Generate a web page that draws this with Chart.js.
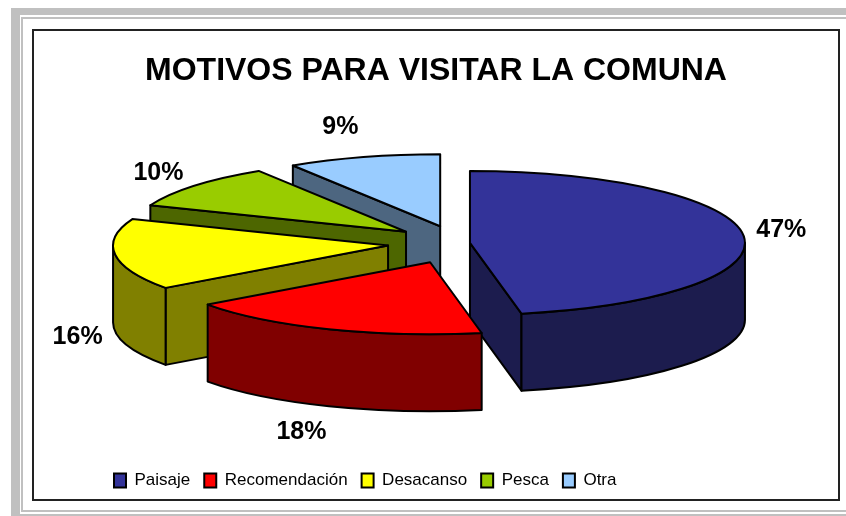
<!DOCTYPE html>
<html>
<head>
<meta charset="utf-8">
<script src="https://cdn.jsdelivr.net/npm/chart.js@4.4.1/dist/chart.umd.min.js"></script>
<style>
    html, body { margin: 0; padding: 0; background: #fff; overflow: hidden; }
    #page { position: relative; width: 846px; height: 516px; overflow: hidden; }
    .frame { position: absolute; box-sizing: border-box; }
    #outer { left: 11px; top: 8px; width: 900px; height: 520px; background: #c0c0c0; }
    #gap { left: 20px; top: 15px; width: 900px; height: 499px; background: #fff; }
    #inner { left: 21px; top: 17px; width: 900px; height: 495px; border: 2px solid #c0c0c0; background: #fff; }
    #box { left: 32px; top: 29px; width: 808px; height: 472px; border: 2px solid #222; background: #fff; }
    #chart { position: absolute; left: 0; top: 0; }
</style>
</head>
<body>
<div id="page">
    <div class="frame" id="outer"></div>
    <div class="frame" id="gap"></div>
    <div class="frame" id="inner"></div>
    <div class="frame" id="box"></div>
    <canvas id="chart" width="846" height="516"></canvas>
</div>
<script>
const categories = ["Paisaje", "Recomendación", "Desacanso", "Pesca", "Otra"];
const values = [47, 18, 16, 10, 9];

const topColors = ["#333399", "#ff0000", "#ffff00", "#99cc00", "#99ccff"];
const sideColors = ["#1c1c4e", "#800000", "#808000", "#4d6600", "#4d6680"];
const explode = [0.04, 0.285, 0.26, 0.25, 0.245];

// fake 3D look: ellipse radii, thickness and where the pie sits relative to the chart area
const RX = 275;
const RY = 72;
const DEPTH = 77;
const SHIFT_X = 23;
const SHIFT_Y = -37;
const LABEL_GAP = 38;

const FONT = "'Liberation Sans Narrow', 'Arial Narrow', 'Liberation Sans', Arial, sans-serif";

function faceFill(ctx, color) {
    ctx.fillStyle = color;
    ctx.fill();
    ctx.stroke();
}

function drawRadialFace(ctx, ax, ay, angle, color) {
    const rx = ax + RX * Math.cos(angle);
    const ry = ay + RY * Math.sin(angle);
    ctx.beginPath();
    ctx.moveTo(ax, ay);
    ctx.lineTo(rx, ry);
    ctx.lineTo(rx, ry + DEPTH);
    ctx.lineTo(ax, ay + DEPTH);
    ctx.closePath();
    faceFill(ctx, color);
}

const pie3d = {
    id: "pie3d",
    beforeDatasetsDraw(chart) {
        const ctx = chart.ctx;
        const arcs = chart.getDatasetMeta(0).data;
        const cx = arcs[0].x + SHIFT_X;
        const cy = arcs[0].y + SHIFT_Y;
        const total = values.reduce((a, b) => a + b, 0);

        const slices = arcs.map((arc, i) => {
            const a0 = arc.startAngle;
            const a1 = arc.endAngle;
            const mid = (a0 + a1) / 2;
            return {
                i, a0, a1, mid,
                ox: Math.cos(mid) * explode[i],
                oy: Math.sin(mid) * explode[i]
            };
        }).sort((p, q) => p.oy - q.oy);

        ctx.save();
        ctx.lineWidth = 2;
        ctx.lineJoin = "round";
        ctx.strokeStyle = "#000";

        slices.forEach(s => {
            const ax = cx + s.ox * RX;
            const ay = cy + s.oy * RY;

            if (Math.cos(s.a0) < -1e-6) drawRadialFace(ctx, ax, ay, s.a0, sideColors[s.i]);
            if (Math.cos(s.a1) > 1e-6) drawRadialFace(ctx, ax, ay, s.a1, sideColors[s.i]);

            const t0 = Math.max(s.a0, 0);
            const t1 = Math.min(s.a1, Math.PI);
            if (t1 > t0) {
                ctx.beginPath();
                ctx.ellipse(ax, ay, RX, RY, 0, t0, t1);
                ctx.lineTo(ax + RX * Math.cos(t1), ay + RY * Math.sin(t1) + DEPTH);
                ctx.ellipse(ax, ay + DEPTH, RX, RY, 0, t1, t0, true);
                ctx.closePath();
                faceFill(ctx, sideColors[s.i]);
            }

            ctx.beginPath();
            ctx.moveTo(ax, ay);
            ctx.ellipse(ax, ay, RX, RY, 0, s.a0, s.a1);
            ctx.closePath();
            faceFill(ctx, topColors[s.i]);
        });

        // percentage labels
        ctx.fillStyle = "#000";
        ctx.font = "bold 25px " + FONT;
        ctx.textAlign = "center";
        ctx.textBaseline = "middle";
        slices.forEach(s => {
            const ax = cx + s.ox * RX;
            const ay = cy + s.oy * RY;
            const px = ax + RX * Math.cos(s.mid);
            const py = ay + RY * Math.sin(s.mid) + (Math.sin(s.mid) > 0 ? DEPTH : 0);
            const dx = px - cx;
            const dy = py - (cy + DEPTH / 2);
            const len = Math.hypot(dx, dy) || 1;
            const pct = Math.round(values[s.i] / total * 100) + "%";
            ctx.fillText(pct, px + dx / len * LABEL_GAP, py + dy / len * LABEL_GAP);
        });
        ctx.restore();
        return false;
    }
};

Chart.defaults.color = "#000";

new Chart(document.getElementById("chart"), {
    type: "pie",
    data: {
        labels: categories,
        datasets: [{
            data: values,
            backgroundColor: topColors,
            borderColor: "#000",
            borderWidth: 2
        }]
    },
    options: {
        responsive: false,
        animation: false,
        events: [],
        layout: {
            padding: { left: 100, right: 74, top: 0, bottom: 17 }
        },
        plugins: {
            title: {
                display: true,
                text: "MOTIVOS PARA VISITAR LA COMUNA",
                color: "#000",
                font: { family: FONT, size: 32, weight: "bold" },
                padding: { top: 52, bottom: 12 }
            },
            legend: {
                position: "bottom",
                align: "start",
                labels: {
                    boxWidth: 12,
                    boxHeight: 14,
                    padding: 14,
                    color: "#000",
                    font: { family: FONT, size: 17 }
                }
            },
            tooltip: { enabled: false }
        }
    },
    plugins: [pie3d]
});
</script>
</body>
</html>
